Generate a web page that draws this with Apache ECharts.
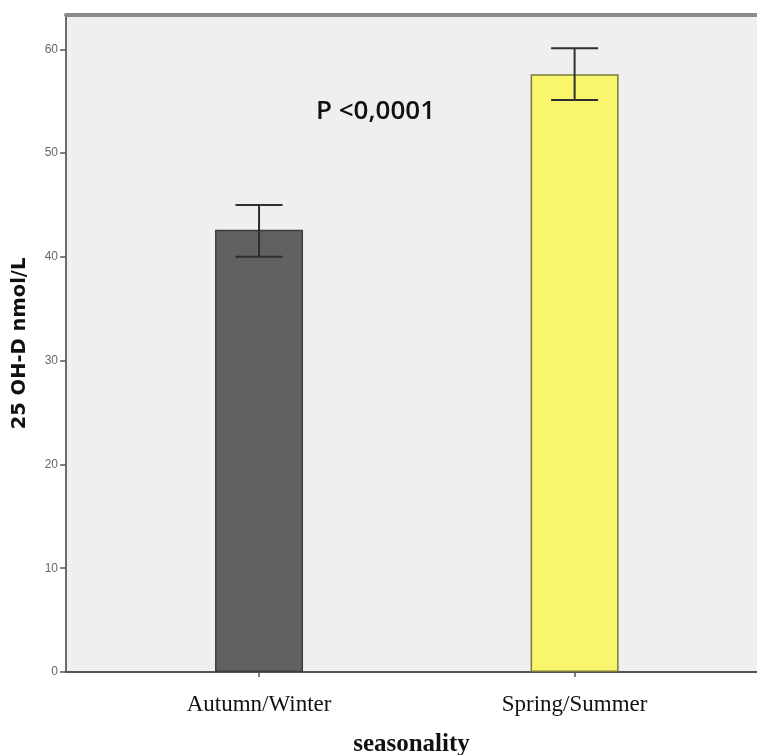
<!DOCTYPE html>
<html>
<head>
<meta charset="utf-8">
<script src="https://cdn.jsdelivr.net/npm/echarts@6/dist/echarts.min.js"></script>
<style>html,body{margin:0;padding:0;background:#fff}#c{width:757px;height:755px}</style>
</head>
<body>
<div id="c"></div>
<script>
const categories = ['Autumn/Winter', 'Spring/Summer'];
const means = [42.6, 57.6];
const lower = [40.0, 55.1];
const upper = [45.0, 60.1];
const yTicks = [0, 10, 20, 30, 40, 50, 60];
const barColors = ['#616161', '#f9f56c'];
const barBorders = ['#3c3c3c', '#7a7a3c'];

const chart = echarts.init(document.getElementById('c'));
const xMin = -0.6117, xMax = 1.578;
chart.setOption({
  animation: false,
  backgroundColor: '#ffffff',
  grid: { left: 66, top: 15, right: 0, bottom: 83, show: true, backgroundColor: '#efefef', borderWidth: 0, containLabel: false, outerBoundsMode: 'none' },
  xAxis: [{
    type: 'value', min: xMin, max: xMax, position: 'bottom',
    axisLine: { show: true, onZero: false, lineStyle: { color: '#555', width: 2 } },
    axisTick: { show: true, customValues: [0, 1], length: 5, lineStyle: { color: '#555', width: 1.5 } },
    axisLabel: {
      customValues: [0, 1], margin: 21,
      formatter: v => categories[Math.round(v)] || '',
      fontFamily: 'Liberation Serif', fontSize: 23, color: '#111'
    },
    splitLine: { show: false },
    name: 'seasonality', nameLocation: 'middle', nameGap: 60,
    nameTextStyle: { fontFamily: 'Liberation Serif', fontSize: 25, fontWeight: 'bold', color: '#111' }
  }, {
    type: 'value', min: xMin, max: xMax, position: 'top',
    axisLine: { show: true, onZero: false, lineStyle: { color: '#8c8c8c', width: 4 } },
    axisTick: { show: false }, axisLabel: { show: false }, splitLine: { show: false }
  }],
  yAxis: {
    type: 'value', min: 0, max: 63.3,
    axisLine: { show: true, onZero: false, lineStyle: { color: '#6a6a6a', width: 2 } },
    axisTick: { show: true, customValues: yTicks, length: 6, lineStyle: { color: '#555', width: 1.5 } },
    axisLabel: { customValues: yTicks, margin: 8, fontFamily: 'Liberation Sans', fontSize: 12, color: '#666' },
    splitLine: { show: false },
    name: '25 OH-D nmol/L', nameLocation: 'middle', nameGap: 36,
    nameTextStyle: { fontFamily: 'DejaVu Sans', fontSize: 19.5, fontWeight: 'bold', color: '#111' }
  },
  series: [{
    type: 'bar', barWidth: 88,
    data: means.map((m, i) => ({ value: [i, m], itemStyle: { color: barColors[i], borderColor: barBorders[i], borderWidth: 1.5 } }))
  }, {
    type: 'custom',
    data: means.map((m, i) => [i, lower[i], upper[i]]),
    renderItem: function (params, api) {
      const x = api.value(0);
      const lo = api.coord([x, api.value(1)]);
      const hi = api.coord([x, api.value(2)]);
      const hw = 23.5;
      const st = { stroke: '#2e2e2e', lineWidth: 2 };
      return { type: 'group', children: [
        { type: 'line', shape: { x1: hi[0], y1: hi[1], x2: lo[0], y2: lo[1] }, style: st },
        { type: 'line', shape: { x1: hi[0] - hw, y1: hi[1], x2: hi[0] + hw, y2: hi[1] }, style: st },
        { type: 'line', shape: { x1: lo[0] - hw, y1: lo[1], x2: lo[0] + hw, y2: lo[1] }, style: st }
      ] };
    },
    z: 5
  }],
  graphic: [{
    type: 'text', left: 316, top: 99,
    style: { text: 'P <0,0001', fontFamily: 'Open Sans', fontSize: 26, fontWeight: 600, fill: '#111' }
  }]
});
</script>
</body>
</html>
